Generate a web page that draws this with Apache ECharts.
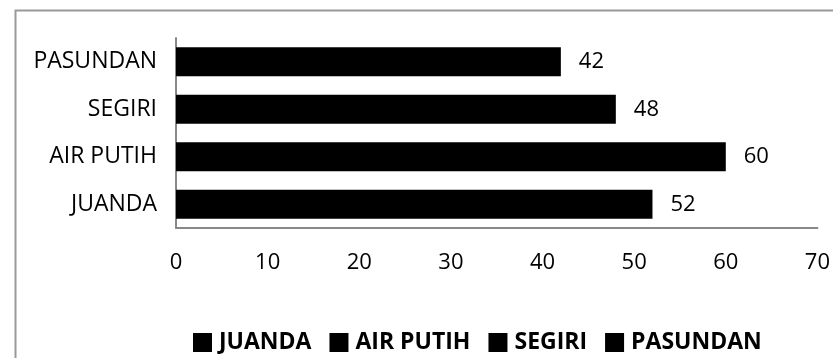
<!DOCTYPE html>
<html>
<head>
<meta charset="utf-8">
<script src="https://cdn.jsdelivr.net/npm/echarts@6/dist/echarts.min.js"></script>
<style>html,body{margin:0;padding:0;background:#fff;}#c{width:833px;height:358px;}</style>
</head>
<body>
<div id="c"></div>
<script>
const categories = ['JUANDA', 'AIR PUTIH', 'SEGIRI', 'PASUNDAN'];
const seriesNames = ['JUANDA', 'AIR PUTIH', 'SEGIRI', 'PASUNDAN'];
const values = [52, 60, 48, 42];
const xTicks = [0, 10, 20, 30, 40, 50, 60, 70];

const FONT = 'Open Sans';
const chart = echarts.init(document.getElementById('c'));
const series = seriesNames.map((name, i) => ({
  name: name,
  type: 'bar',
  stack: 'all',
  barWidth: 29,
  itemStyle: { color: '#000' },
  label: { show: true, position: 'right', distance: 18, color: '#000', fontSize: 22, fontFamily: FONT },
  data: categories.map((c, j) => (j === i ? values[j] : '-'))
}));
chart.setOption({
  animation: false,
  backgroundColor: '#fff',
  graphic: [{
    type: 'rect', left: 13, top: 8, z: -1,
    shape: { width: 900, height: 400 },
    style: { fill: 'none', stroke: '#999', lineWidth: 2 }
  }],
  grid: { left: 176, right: 15, top: 38, bottom: 130, containLabel: false },
  xAxis: {
    type: 'value', min: xTicks[0], max: xTicks[xTicks.length - 1], interval: 10,
    axisLine: { show: true, lineStyle: { color: '#888', width: 2 } },
    axisTick: { show: false },
    splitLine: { show: false },
    axisLabel: { margin: 24, color: '#000', fontSize: 22, fontFamily: FONT }
  },
  yAxis: {
    type: 'category', data: categories,
    axisLine: { show: true, lineStyle: { color: '#888', width: 2 } },
    axisTick: { show: false },
    axisLabel: { margin: 19, color: '#000', fontSize: 23, fontFamily: FONT }
  },
  legend: {
    top: 326, left: 188,
    icon: 'rect', itemWidth: 19, itemHeight: 19, itemGap: 18,
    textStyle: { color: '#000', fontSize: 23, fontWeight: 'bold', fontFamily: FONT, padding: [0, 0, 0, 2] },
    data: seriesNames
  },
  series: series
});
</script>
</body>
</html>
